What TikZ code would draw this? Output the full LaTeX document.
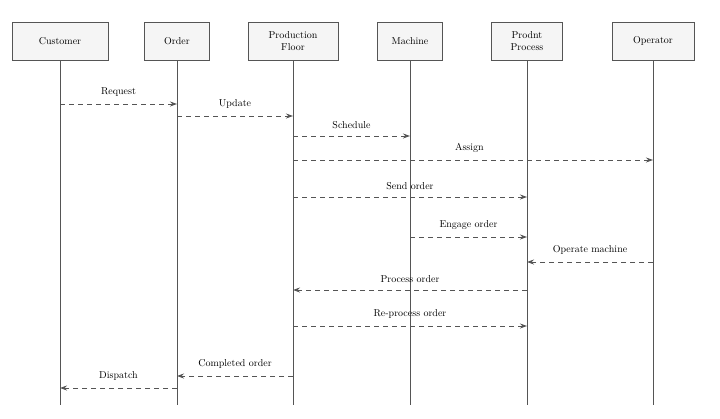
\documentclass[tikz,border=0pt]{standalone}
\usetikzlibrary{arrows.meta,positioning}
\definecolor{ln}{HTML}{555555}

\begin{document}
\begin{tikzpicture}[
        x=1pt,y=-1pt,
        actor/.style={draw=ln,fill=gray!8,minimum height=38pt,align=center,
            font=\normalsize,inner sep=2pt},
        life/.style={draw=ln,line width=1pt},
        msg/.style={draw=ln,dash pattern=on 5pt off 4pt,line width=0.9pt,
            -{Stealth[length=7pt,width=5pt]}},
        lbl/.style={font=\normalsize,above,inner sep=7pt},
    ]
\useasboundingbox (0,0) rectangle (720,418);

% actors on top
\node[actor,minimum width=96pt] (cust) at (60,41) {Customer};
\node[actor,minimum width=65pt] (ord) at (177,41) {Order};
\node[actor,minimum width=90pt] (prod) at (293,41) {Production\\Floor};
\node[actor,minimum width=65pt] (mach) at (410,41) {Machine};
\node[actor,minimum width=71pt] (proc) at (527,41) {Prodnt\\Process};
\node[actor,minimum width=82pt] (oper) at (653,41) {Operator};

% lifelines
\foreach \a in {cust,ord,prod,mach,proc,oper} {
  \coordinate (\a-end) at (\a.south |- 0,405);
  \draw[life] (\a.south) -- (\a-end);
}

% messages
\draw[msg] (cust.south |- 0,104) -- node[lbl] {Request} (ord.south |- 0,104);
\draw[msg] (ord.south |- 0,116) -- node[lbl] {Update} (prod.south |- 0,116);
\draw[msg] (prod.south |- 0,136) -- node[lbl] {Schedule} (mach.south |- 0,136);
\draw[msg] (prod.south |- 0,160) -- node[lbl,pos=0.49] {Assign} (oper.south |- 0,160);
\draw[msg] (prod.south |- 0,197) -- node[lbl] {Send order} (proc.south |- 0,197);
\draw[msg] (mach.south |- 0,237) -- node[lbl] {Engage order} (proc.south |- 0,237);
\draw[msg] (oper.south |- 0,262) -- node[lbl] {Operate machine} (proc.south |- 0,262);
\draw[msg] (proc.south |- 0,290) -- node[lbl] {Process order} (prod.south |- 0,290);
\draw[msg] (prod.south |- 0,326) -- node[lbl] {Re-process order} (proc.south |- 0,326);
\draw[msg] (prod.south |- 0,376) -- node[lbl] {Completed order} (ord.south |- 0,376);
\draw[msg] (ord.south |- 0,388) -- node[lbl] {Dispatch} (cust.south |- 0,388);
\end{tikzpicture}
\end{document}
